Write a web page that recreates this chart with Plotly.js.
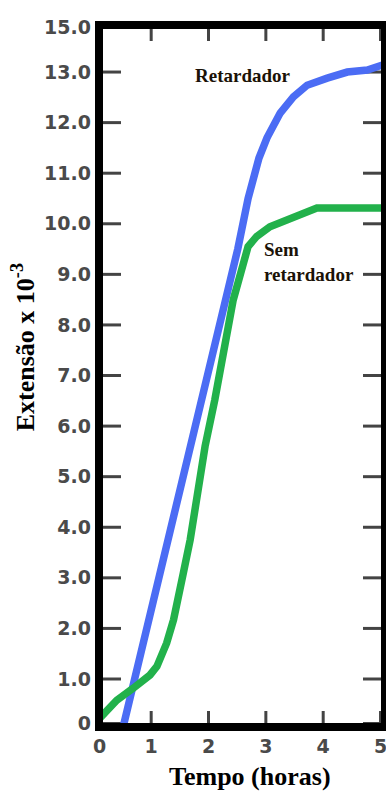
<!DOCTYPE html>
<html>
<head>
<meta charset="utf-8">
<script src="https://cdn.plot.ly/plotly-3.0.1.min.js"></script>
<style>html,body{margin:0;padding:0;background:#fff;}#chart{width:386px;height:793px;}</style>
</head>
<body>
<div id="chart"></div>
<script>
// Retardador (blue)
const retX = [0.50, 1.70, 2.08, 2.32, 2.51, 2.69, 2.88, 3.02, 3.25, 3.48, 3.72, 4.07, 4.42, 4.77, 5.06];
const retY = [0.00, 5.60, 7.49, 8.50, 9.50, 10.50, 11.30, 11.70, 12.19, 12.51, 12.74, 12.88, 13.00, 13.04, 13.15];
// Sem retardador (green)
const semX = [0.00, 0.40, 0.69, 0.98, 1.10, 1.27, 1.39, 1.47, 1.56, 1.68, 1.79, 1.94, 2.11, 2.26, 2.43, 2.69, 2.84, 3.07, 3.42, 3.89, 4.41, 5.06];
const semY = [0.10, 0.58, 0.82, 1.08, 1.25, 1.71, 2.17, 2.56, 3.09, 3.75, 4.60, 5.60, 6.52, 7.50, 8.49, 9.55, 9.75, 9.94, 10.11, 10.31, 10.31, 10.31];

// tick labels (as printed on the original figure)
const xTickVals = [0.1, 1, 2, 3, 4, 5];
const xTickText = ["0", "1", "2", "3", "4", "5"];
const yTickVals = [0.12, 1, 2, 3, 4, 5, 6, 7, 8, 9, 10, 11, 12, 13, 13.88];
const yTickText = ["0", "1.0", "2.0", "3.0", "4.0", "5.0", "6.0", "7.0", "8.0", "9.0", "10.0", "11.0", "12.0", "13.0", "15.0"];

const xRange = [0.09, 5.078];
const yRange = [0.051, 13.93];

const serif = "Liberation Serif, Times New Roman, serif";
const tickFont = {family: "DejaVu Sans, sans-serif", size: 19, color: "#4a4a4a", weight: "bold"};

const W = 386, H = 793, ML = 99, MR = 1, MT = 25, MB = 66;
const plotW = W - ML - MR, plotH = H - MT - MB;
const xTickLenU = 16 * (yRange[1] - yRange[0]) / plotH;
const yTickLenU = 22 * (xRange[1] - xRange[0]) / plotW;

const tickLine = {color: "#444444", width: 3};
const traces = [];
// inward tick marks on all four sides, one small segment per tick value
xTickVals.forEach(function(v) {
  traces.push({x: [v, v], y: [yRange[0], yRange[0] + xTickLenU], type: "scatter", mode: "lines",
               line: tickLine, hoverinfo: "skip", showlegend: false});
  traces.push({x: [v, v], y: [yRange[1], yRange[1] - xTickLenU], type: "scatter", mode: "lines",
               line: tickLine, hoverinfo: "skip", showlegend: false});
});
yTickVals.forEach(function(v) {
  traces.push({x: [xRange[0], xRange[0] + yTickLenU], y: [v, v], type: "scatter", mode: "lines",
               line: tickLine, hoverinfo: "skip", showlegend: false});
  traces.push({x: [xRange[1], xRange[1] - yTickLenU], y: [v, v], type: "scatter", mode: "lines",
               line: tickLine, hoverinfo: "skip", showlegend: false});
});
traces.push({x: retX, y: retY, type: "scatter", mode: "lines", name: "Retardador",
             line: {color: "#4b6cf4", width: 7.5}, hoverinfo: "skip"});
traces.push({x: semX, y: semY, type: "scatter", mode: "lines", name: "Sem retardador",
             line: {color: "#22b14b", width: 7.5}, hoverinfo: "skip"});

const layout = {
  width: W, height: H,
  margin: {l: ML, r: MR, t: MT, b: MB, pad: 0},
  paper_bgcolor: "#fff", plot_bgcolor: "#fff",
  showlegend: false,
  xaxis: {
    range: xRange, tickvals: xTickVals, ticktext: xTickText,
    ticks: "", showline: false,
    showgrid: false, zeroline: false, ticklabeloverflow: "allow",
    tickfont: tickFont, ticklabelstandoff: 6, fixedrange: true
  },
  yaxis: {
    range: yRange, tickvals: yTickVals, ticktext: yTickText,
    ticks: "", showline: false,
    showgrid: false, zeroline: false, ticklabeloverflow: "allow",
    tickfont: tickFont, ticklabelstandoff: 7, fixedrange: true
  },
  shapes: [
    {type: "rect", xref: "paper", yref: "paper", x0: 0, x1: 1, y0: 0, y1: 1,
     line: {color: "#000", width: 8}}
  ],
  annotations: [
    {xref: "x", yref: "y", x: 1.73, y: 12.94, xanchor: "left", yanchor: "middle",
     text: "<b>Retardador</b>", showarrow: false, font: {family: serif, size: 19, color: "#1b1207"}},
    {xref: "x", yref: "y", x: 2.93, y: 9.24, xanchor: "left", yanchor: "middle", align: "left",
     text: "<b>Sem<br>retardador</b>", showarrow: false, font: {family: serif, size: 19, color: "#1b1207"}},
    {xref: "paper", yref: "paper", x: -0.263, y: 0.5406, xanchor: "center", yanchor: "middle",
     textangle: -90, text: "<b>Extensão x 10<sup>-3</sup></b>", showarrow: false,
     font: {family: serif, size: 26, color: "#000"}},
    {xref: "paper", yref: "paper", x: 0.528, y: -0.0712, xanchor: "center", yanchor: "middle",
     text: "<b>Tempo (horas)</b>", showarrow: false,
     font: {family: serif, size: 26, color: "#000"}}
  ]
};

Plotly.newPlot("chart", traces, layout, {displayModeBar: false});
</script>
</body>
</html>
